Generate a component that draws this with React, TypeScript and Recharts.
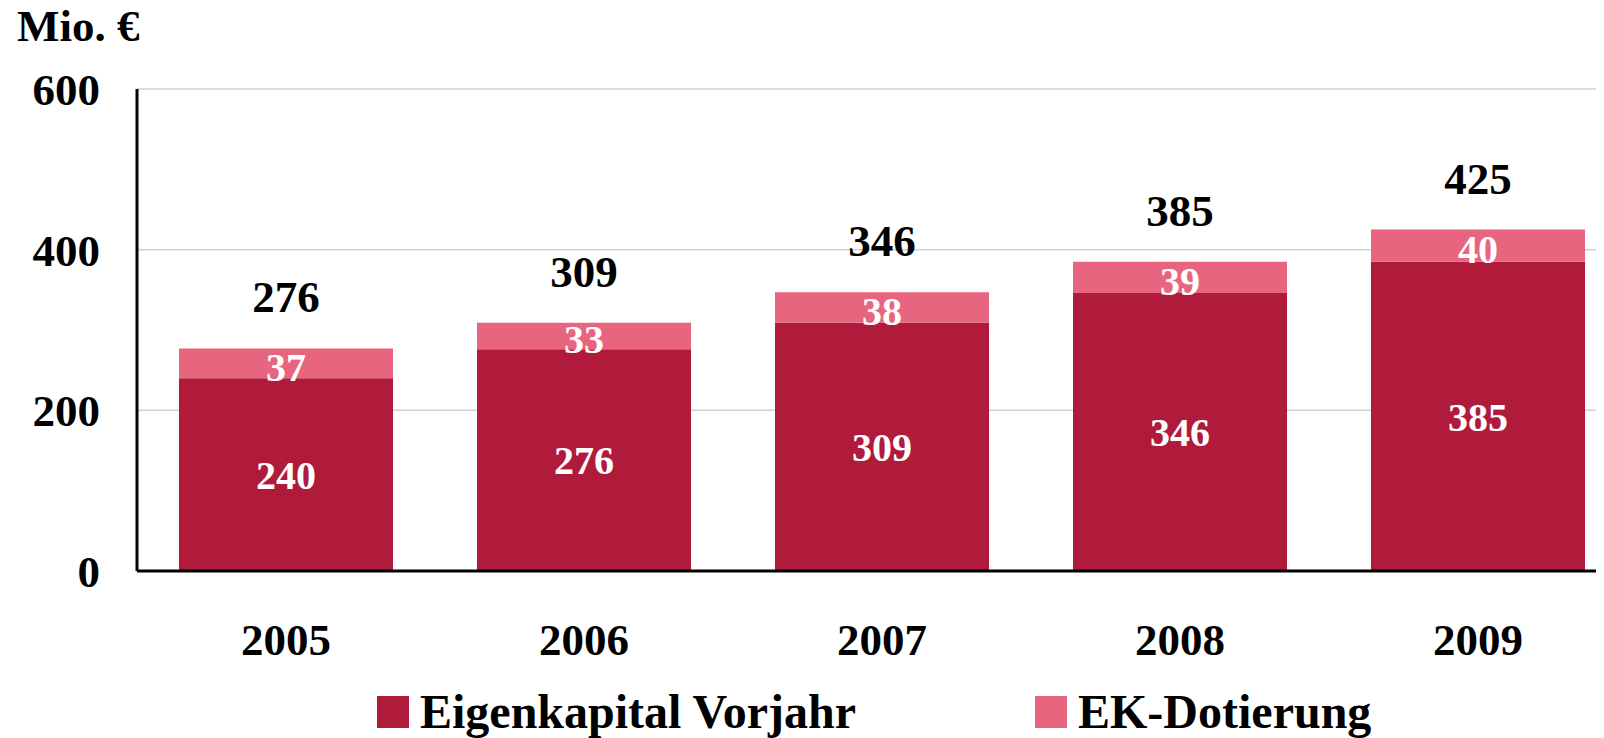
import { Bar, BarChart, CartesianGrid, LabelList, Legend, XAxis, YAxis } from 'recharts';

const jahre = ['2005', '2006', '2007', '2008', '2009'];
const eigenkapitalVorjahr = [240, 276, 309, 346, 385];
const ekDotierung = [37, 33, 38, 39, 40];
const summen = [276, 309, 346, 385, 425];
const yTicks = [0, 200, 400, 600];

const DUNKEL = '#B01A3B';
const HELL = '#E8657F';
const FONT = '"Liberation Serif", "Times New Roman", serif';

const daten = jahre.map((jahr, i) => ({
  jahr,
  vorjahr: eigenkapitalVorjahr[i],
  dotierung: ekDotierung[i],
  summe: summen[i],
}));

const legendItems = [
  { name: 'Eigenkapital Vorjahr', color: DUNKEL },
  { name: 'EK-Dotierung', color: HELL },
];

const renderLegend = () => (
  <div style={{ display: 'flex', paddingLeft: 369, fontFamily: FONT, fontWeight: 'bold' }}>
    {legendItems.map((item, i) => (
      <div
        key={item.name}
        style={{ display: 'flex', alignItems: 'center', width: i === 0 ? 658 : 'auto' }}
      >
        <span style={{ width: 32, height: 32, background: item.color, marginRight: 11 }} />
        <span style={{ fontSize: 48, lineHeight: '40px', color: '#000' }}>{item.name}</span>
      </div>
    ))}
  </div>
);

const App = () => {
  return (
    <div style={{ position: 'relative', width: 1596, height: 730 }}>
      <div
        style={{
          position: 'absolute',
          left: 9,
          top: -8,
          fontFamily: FONT,
          fontWeight: 'bold',
          fontSize: 45,
          zIndex: 2,
        }}
      >
        Mio. €
      </div>
      <div style={{ width: 1596, height: 730, overflow: 'hidden' }}>
        <BarChart
          width={1640}
          height={730}
          data={daten}
          margin={{ top: 81, right: 21, left: 0, bottom: 77 }}
          style={{ fontFamily: FONT, fontWeight: 'bold' }}
        >
          <CartesianGrid vertical={false} stroke="#d0d0d0" strokeWidth={1.5} />
          <XAxis
            dataKey="jahr"
            height={90}
            tickSize={0}
            tickMargin={52}
            tickLine={false}
            axisLine={{ stroke: '#000', strokeWidth: 3 }}
            tick={{ fill: '#000', fontSize: 45, fontWeight: 'bold', fontFamily: FONT }}
          />
          <YAxis
            width={129}
            domain={[0, 600]}
            ticks={yTicks}
            tickSize={0}
            tickMargin={37}
            tickLine={false}
            axisLine={{ stroke: '#000', strokeWidth: 3 }}
            tick={{ fill: '#000', fontSize: 45, fontWeight: 'bold', fontFamily: FONT }}
          />
          <Legend
            layout="horizontal"
            verticalAlign="middle"
            content={renderLegend}
            wrapperStyle={{ top: 684, left: 0, width: 1640 }}
          />
          <Bar
            dataKey="vorjahr"
            name="Eigenkapital Vorjahr"
            stackId="a"
            fill={DUNKEL}
            barSize={214}
            isAnimationActive={false}
          >
            <LabelList
              dataKey="vorjahr"
              position="center"
              fill="#fff"
              fontSize={40}
              fontWeight="bold"
              fontFamily={FONT}
            />
          </Bar>
          <Bar
            dataKey="dotierung"
            name="EK-Dotierung"
            stackId="a"
            fill={HELL}
            barSize={214}
            isAnimationActive={false}
          >
            <LabelList
              dataKey="dotierung"
              position="center"
              dy={3}
              fill="#fff"
              fontSize={40}
              fontWeight="bold"
              fontFamily={FONT}
            />
            <LabelList
              dataKey="summe"
              position="top"
              offset={36}
              fill="#000"
              fontSize={45}
              fontWeight="bold"
              fontFamily={FONT}
            />
          </Bar>
        </BarChart>
      </div>
    </div>
  );
};

export default App;
